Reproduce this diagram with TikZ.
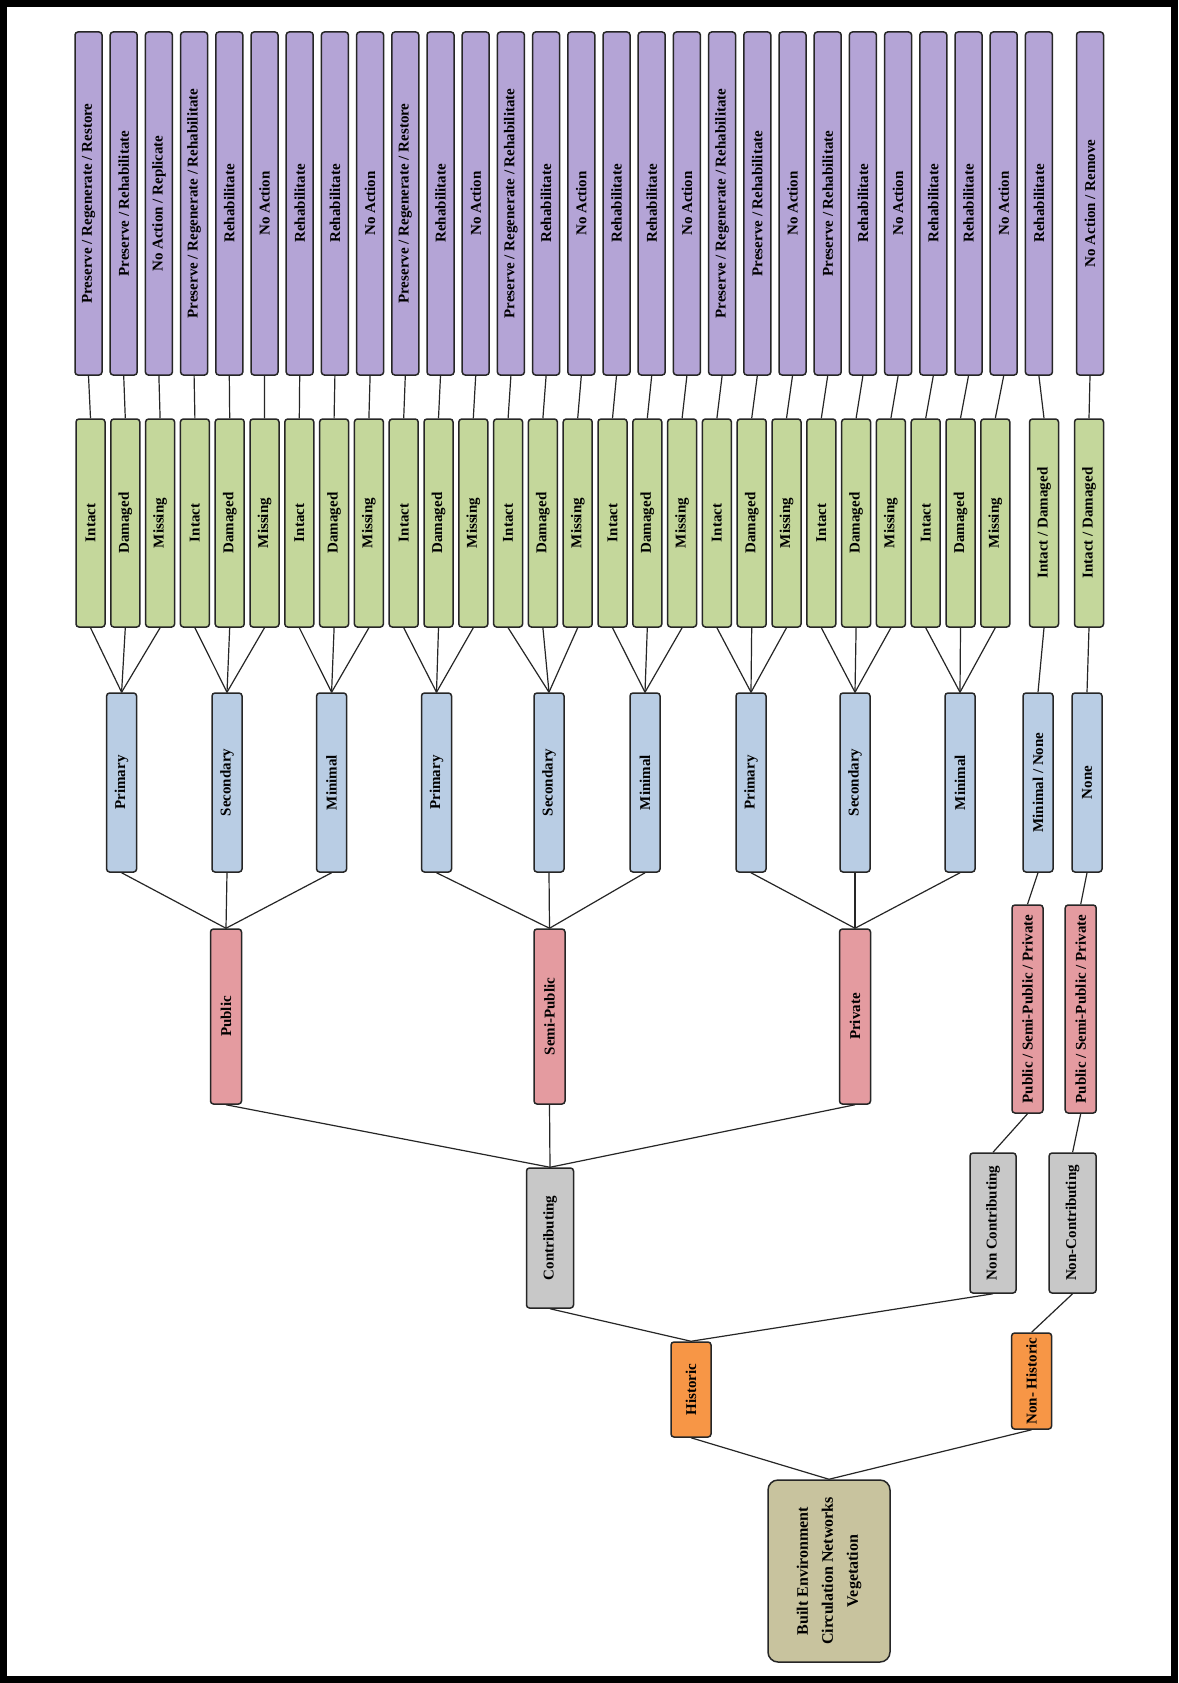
\documentclass[tikz,border=0pt]{standalone}
\usepackage{fontspec}
\setmainfont{Liberation Serif}
\usepackage{graphicx}
\usetikzlibrary{positioning}

\definecolor{actpurple}{RGB}{180,164,214}
\definecolor{condgreen}{RGB}{196,215,155}
\definecolor{useblue}{RGB}{185,205,228}
\definecolor{ownred}{RGB}{228,155,160}
\definecolor{contgray}{RGB}{200,200,200}
\definecolor{historange}{RGB}{247,150,70}
\definecolor{roottan}{RGB}{200,195,158}

\tikzset{
  box/.style={draw=black!85, line width=1.5pt, rounded corners=3pt, inner sep=0pt,
    text=black, font=\bfseries\fontsize{15}{18}\selectfont},
  actionbox/.style={box, fill=actpurple, minimum width=27pt, minimum height=343pt},
  condbox/.style={box, fill=condgreen, minimum width=29pt, minimum height=208pt},
  usagebox/.style={box, fill=useblue, minimum width=30pt, minimum height=179pt},
  ownbox/.style={box, fill=ownred, minimum width=31pt, minimum height=175pt},
  contribbox/.style={box, fill=contgray, minimum width=47pt, minimum height=140pt},
  histbox/.style={box, fill=historange, minimum width=40pt, minimum height=95pt},
  rootbox/.style={box, fill=roottan, rounded corners=10pt, minimum width=122pt, minimum height=182pt},
  link/.style={draw=black!85, line width=1.2pt},
}

\begin{document}
\begin{tikzpicture}[x=1pt,y=-1pt]
    \useasboundingbox (0,0) rectangle (1178,1683);
    \draw[line width=7pt, fill=white] (3.5,3.5) rectangle (1174.5,1679.5);

% actions
    \foreach \t [count=\i] in {Preserve / Regenerate / Restore, Preserve / Rehabilitate, No Action / Replicate,
        Preserve / Regenerate / Rehabilitate, Rehabilitate, No Action, Rehabilitate, Rehabilitate, No Action,
        Preserve / Regenerate / Restore, Rehabilitate, No Action, Preserve / Regenerate / Rehabilitate, Rehabilitate, No Action,
        Rehabilitate, Rehabilitate, No Action, Preserve / Regenerate / Rehabilitate, Preserve / Rehabilitate, No Action,
        Preserve / Rehabilitate, Rehabilitate, No Action, Rehabilitate, Rehabilitate, No Action, Rehabilitate}
        \node[actionbox] (a\i) at ({88.5+35.2*(\i-1)},203.5) {\rotatebox{90}{\t}};
    \node[actionbox] (a29) at (1090,203.5) {\rotatebox{90}{No Action / Remove}};

% condition
    \foreach \g in {0,...,8}
        \foreach \t [count=\k] in {Intact,Damaged,Missing} {
            \pgfmathtruncatemacro\i{3*\g+\k}
            \node[condbox] (c\i) at ({90.5+34.8*(\i-1)},523) {\rotatebox{90}{\t}};
            \draw[link] (c\i.north) -- (a\i.south);
        }
    \node[condbox] (c28) at (1044,523) {\rotatebox{90}{Intact / Damaged}};
    \node[condbox] (c29) at (1089,523) {\rotatebox{90}{Intact / Damaged}};
    \draw[link] (c28.north) -- (a28.south);
    \draw[link] (c29.north) -- (a29.south);

% use
    \foreach \t/\x [count=\j] in {Primary/121.6,Secondary/227,Minimal/331.6,Primary/436.5,Secondary/549,
        Minimal/645,Primary/751,Secondary/855,Minimal/960} {
        \node[usagebox] (u\j) at (\x,782.5) {\rotatebox{90}{\t}};
        \foreach \k in {1,2,3} {
            \pgfmathtruncatemacro\i{3*\j-3+\k}
            \draw[link] (u\j.north) -- (c\i.south);
        }
    }
    \node[usagebox] (u10) at (1038,782.5) {\rotatebox{90}{Minimal / None}};
    \node[usagebox] (u11) at (1087,782.5) {\rotatebox{90}{None}};
    \draw[link] (u10.north) -- (c28.south);
    \draw[link] (u11.north) -- (c29.south);

% ownership
    \node[contribbox] (cb) at (550,1238) {\rotatebox{90}{Contributing}};
    \foreach \t/\x [count=\k] in {Public/226,Semi-Public/549.5,Private/855} {
        \node[ownbox] (o\k) at (\x,1016.5) {\rotatebox{90}{\t}};
        \draw[link] (cb.north) -- (o\k.south);
        \foreach \m in {1,2,3} {
            \pgfmathtruncatemacro\j{3*\k-3+\m}
            \draw[link] (o\k.north) -- (u\j.south);
        }
    }
    \node[ownbox, minimum height=208pt] (o4) at (1027.5,1009) {\rotatebox{90}{Public / Semi-Public / Private}};
    \node[ownbox, minimum height=208pt] (o5) at (1080.7,1009) {\rotatebox{90}{Public / Semi-Public / Private}};
    \draw[link] (o4.north) -- (u10.south);
    \draw[link] (o5.north) -- (u11.south);

% contributing
    \node[contribbox, minimum width=46pt] (nc1) at (993,1223) {\rotatebox{90}{Non Contributing}};
    \node[contribbox] (nc2) at (1072.6,1223) {\rotatebox{90}{Non-Contributing}};
    \draw[link] (nc1.north) -- (o4.south);
    \draw[link] (nc2.north) -- (o5.south);

% historic
    \node[histbox] (h1) at (691,1389.5) {\rotatebox{90}{Historic}};
    \node[histbox, minimum height=96pt] (h2) at (1031.6,1381) {\rotatebox{90}{Non- Historic}};
    \draw[link] (h1.north) -- (cb.south);
    \draw[link] (h1.north) -- (nc1.south);
    \draw[link] (h2.north) -- (nc2.south);

    \node[rootbox, font=\bfseries\fontsize{16}{25}\selectfont] (root) at (829,1571)
        {\rotatebox{90}{\parbox{170pt}{\centering Built Environment\\Circulation Networks\\Vegetation}}};
    \draw[link] (root.north) -- (h1.south);
    \draw[link] (root.north) -- (h2.south);

\end{tikzpicture}
\end{document}
